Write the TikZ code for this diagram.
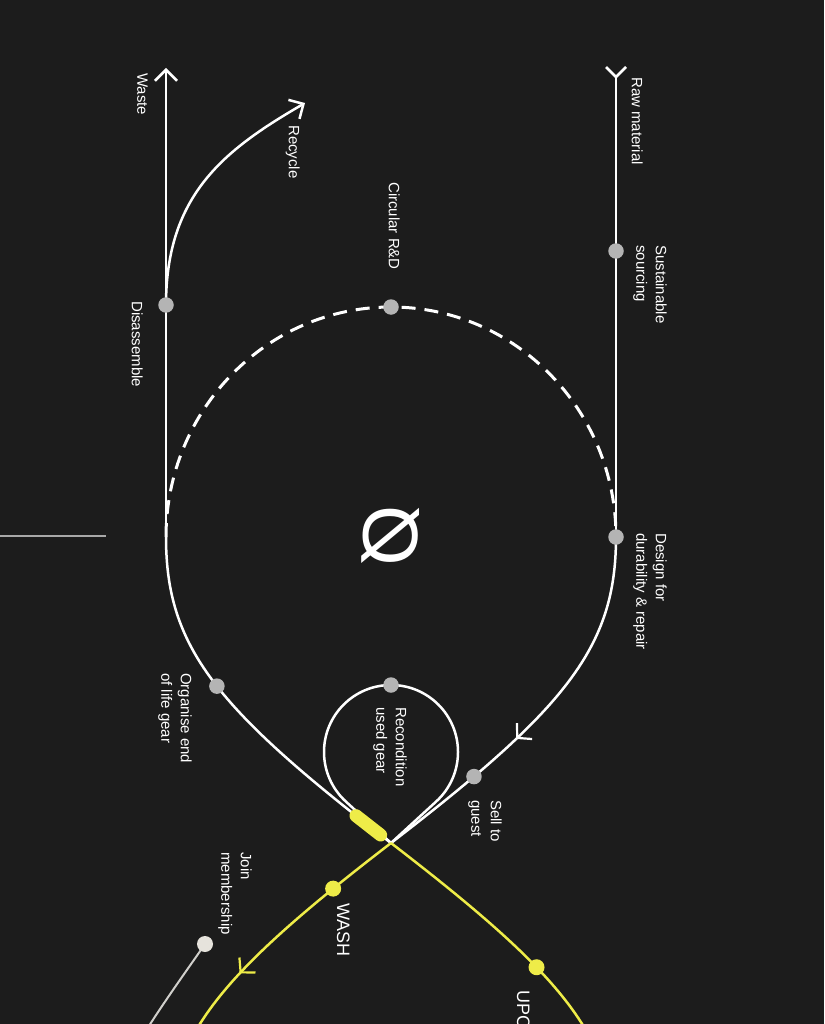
\documentclass[tikz,border=0pt]{standalone}
\usepackage{fontspec}
\setmainfont{Liberation Sans}
\usetikzlibrary{arrows.meta,decorations.markings}
\definecolor{bg}{HTML}{1C1C1C}
\definecolor{dotgray}{HTML}{B4B4B4}
\definecolor{ylw}{RGB}{238,236,72}
\definecolor{joinline}{HTML}{D0CFCB}
\definecolor{joindot}{HTML}{E6E3DC}
\definecolor{rulegray}{HTML}{A8A8A8}
\begin{document}
\begin{tikzpicture}[x=1pt,y=-1pt,
  flow/.style={draw=white, line width=2.5pt},
  yflow/.style={draw=ylw, line width=2.5pt},
  dashflow/.style={draw=white, line width=3pt, dash pattern=on 14pt off 9pt},
  dot/.style={circle, fill=dotgray, inner sep=0pt, minimum size=15.5pt},
  ydot/.style={circle, fill=ylw, inner sep=0pt, minimum size=16pt},
  jdot/.style={circle, fill=joindot, inner sep=0pt, minimum size=16pt},
  pill/.style={draw=ylw, line width=13pt, line cap=round},
  rule/.style={draw=rulegray, line width=1.5pt},
  lbl/.style={rotate=-90, anchor=north west, inner sep=0pt, align=left, text=white,
    font=\fontsize{15}{19.5}\selectfont},
  biglbl/.style={lbl, font=\fontsize{18}{20}\selectfont},
  warrow/.style={postaction={decorate}, decoration={markings,
    mark=at position #1 with {\arrow[white,line width=2.2pt]{Straight Barb[length=10pt,width=22pt]}}}},
  yarrow/.style={postaction={decorate}, decoration={markings,
    mark=at position #1 with {\arrow[ylw,line width=2.2pt]{Straight Barb[length=10pt,width=22pt]}}}}
]
\useasboundingbox (0,0) rectangle (824,1024);
\fill[bg] (0,0) rectangle (824,1024);
\clip (0,0) rectangle (824,1024);

% key points
\coordinate (wtop) at (166,68);
\coordinate (rtop) at (616,77);
\coordinate (L) at (166,537);
\coordinate (R) at (616,537);
\coordinate (X) at (391,843);
\coordinate (rdpt) at (391,307);
\coordinate (sustpt) at (616,251);
\coordinate (disaspt) at (166,305);
\coordinate (rectip) at (305,103);
\coordinate (recpt) at (391,685);
\coordinate (Tl) at (345.6,801.3);
\coordinate (Tr) at (436.4,801.3);
\coordinate (joinpt) at (205,944);
\coordinate (joinend) at (140,1040);
\coordinate (hla) at (0,536);
\coordinate (hlb) at (106,536);

% left rule
\draw[rule] (hla) -- (hlb);

% raw material line with tail mark
\draw[flow] (rtop) -- (R);
\draw[flow, line join=miter] ([shift={(-10,-10)}]rtop) -- (rtop) -- ([shift={(10,-10)}]rtop);

% waste line
\draw[flow, -{Straight Barb[length=11pt,width=22pt]}] (L) -- (wtop);

% recycle curve
\draw[flow, -{Straight Barb[length=11pt,width=22pt]}] (disaspt) .. controls (166,195) and (224,150) .. (rectip);

% dashed circular R&D arc
\draw[dashflow] (L) .. controls (166,410) and (266.7,307) .. (rdpt)
   .. controls (515.3,307) and (616,410) .. (R);

% left lower curve
\draw[flow] (L) .. controls (166,647) and (215.5,708) ..
   coordinate[pos=0.52] (orgpt) coordinate[pos=0.93] (pa) coordinate[pos=0.98] (pb) (X);

% right lower curve
\draw[flow, warrow=233pt] (R) .. controls (616,647) and (566.5,708) ..
   coordinate[pos=0.82] (sellpt) (X);

% recondition loop
\draw[flow] (X) -- (Tl) .. controls (331.8,788.6) and (324,770.7) .. (324,752)
   .. controls (324,715) and (354,685) .. (recpt)
   .. controls (428,685) and (458,715) .. (458,752)
   .. controls (458,770.7) and (450.2,788.6) .. (Tr) -- (X);

% yellow lower loop
\draw[yflow, yarrow=200pt] (X) .. controls (215.5,978) and (166,1039) ..
   coordinate[pos=0.12] (washpt) (166,1149);
\draw[yflow] (X) .. controls (566.5,978) and (616,1039) ..
   coordinate[pos=0.365] (upcpt) (616,1149);

% pill
\draw[pill] (pa) -- (pb);

% join membership
\draw[draw=joinline, line width=2pt] (joinpt) .. controls (190,966) and (165,1000) .. (joinend);

% dots
\node[dot] (sust) at (sustpt) {};
\node[dot] (design) at (R) {};
\node[dot] (rd) at (rdpt) {};
\node[dot] (disas) at (disaspt) {};
\node[dot] (org) at (orgpt) {};
\node[dot] (recon) at (recpt) {};
\node[dot] (sell) at (sellpt) {};
\node[ydot] (wash) at (washpt) {};
\node[ydot] (upc) at (upcpt) {};
\node[jdot] (join) at (joinpt) {};

% centre logo
\node[rotate=90, xscale=-1, inner sep=0pt, text=white, font=\fontsize{78}{78}\selectfont] (logo) at (391,536) {Ø};

% labels
\node[lbl] (lwaste) at (148,73) {Waste};
\node[lbl] (lrecycle) at (300,125) {Recycle};
\node[lbl] (ldis) at (143,301) {Disassemble};
\node[lbl] (lraw) at (643,77) {Raw material};
\node[lbl] (lsust) at (667,245) {Sustainable\\sourcing};
\node[lbl] (lrd) at (400,182) {Circular R\&D};
\node[lbl] (ldesign) at (667,533) {Design for\\durability \& repair};
\node[lbl] (lorg) at (192,673) {Organise end\\of life gear};
\node[lbl] (lrecon) at (407,707) {Recondition\\used gear};
\node[lbl] (lsell) at (502,800) {Sell to\\guest};
\node[lbl] (ljoin) at (252,852) {Join\\membership};
\node[biglbl] (lwash) at (350,903) {WASH};
\node[biglbl] (lupc) at (530,990) {UPC};
\end{tikzpicture}
\end{document}
